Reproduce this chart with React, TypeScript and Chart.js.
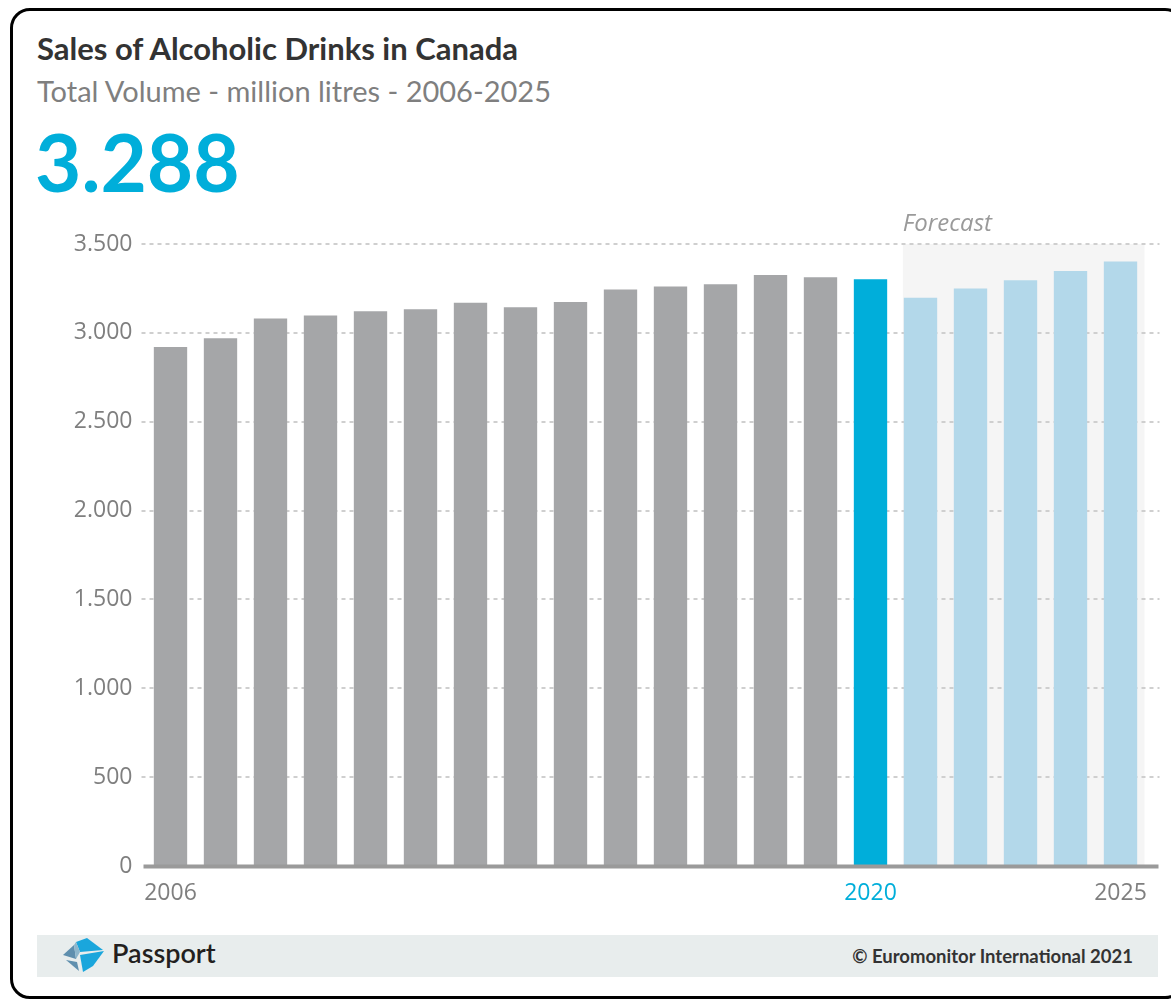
import React, { useEffect, useRef } from 'react';
import { Chart, registerables } from 'chart.js';

Chart.register(...registerables);

// ---- data ----
const years = ['2006', '2007', '2008', '2009', '2010', '2011', '2012', '2013', '2014', '2015',
  '2016', '2017', '2018', '2019', '2020', '2021', '2022', '2023', '2024', '2025'];
const volumes = [2921, 2970, 3081, 3098, 3122, 3133, 3169, 3144, 3174, 3244,
  3261, 3274, 3326, 3313, 3302, 3197, 3249, 3296, 3348, 3401];
const shownYearLabels = ['2006', '2020', '2025'];
const currentYear = '2020';
const firstForecastYear = '2021';
const yMax = 3500;
const yStep = 500;

const titleText = 'Sales of Alcoholic Drinks in Canada';
const subtitleText = 'Total Volume - million litres - 2006-2025';
const headlineText = '3.288';
const forecastText = 'Forecast';
const copyrightText = '© Euromonitor International 2021';
const brandText = 'Passport';

// ---- styles ----
const GRAY = '#A5A6A8';
const CURRENT = '#00AEDA';
const FORECAST = '#B3D8EA';
const TICK = '#7F7F7F';

const barColors = years.map((y) => (y < currentYear ? GRAY : y === currentYear ? CURRENT : FORECAST));

const fmt = (v: number) => {
  const s = String(Math.round(v));
  return s.replace(/\B(?=(\d{3})+(?!\d))/g, '.');
};

const decor = {
  id: 'decor',
  beforeDatasetsDraw(chart: any) {
    const { ctx, chartArea, scales } = chart;
    const y = scales.y;
    const meta = chart.getDatasetMeta(0);
    const fi = years.indexOf(firstForecastYear);
    const bar: any = meta.data[fi];
    const left = bar.x - bar.width / 2 - 1;
    const right = chartArea.right - 1;
    const top = y.getPixelForValue(yMax);
    const bottom = y.getPixelForValue(0);
    ctx.save();
    ctx.fillStyle = '#F5F5F5';
    ctx.fillRect(left, top, right - left, bottom - top);
    ctx.strokeStyle = '#CFCFCF';
    ctx.lineWidth = 2;
    ctx.setLineDash([4, 4]);
    y.ticks.forEach((t: any) => {
      if (t.value === 0) return;
      const py = Math.round(y.getPixelForValue(t.value));
      ctx.beginPath();
      ctx.moveTo(chartArea.left - 4, py);
      ctx.lineTo(chartArea.right + 14, py);
      ctx.stroke();
    });
    ctx.setLineDash([]);
    ctx.font = 'italic 24px "Open Sans"';
    ctx.fillStyle = '#9A9A9A';
    ctx.textBaseline = 'alphabetic';
    ctx.textAlign = 'left';
    ctx.fillText(forecastText, left, top - 13);
    ctx.restore();
  },
  afterDatasetsDraw(chart: any) {
    const { ctx, chartArea, scales } = chart;
    const py = scales.y.getPixelForValue(0);
    ctx.save();
    ctx.strokeStyle = '#9A9A9A';
    ctx.lineWidth = 4;
    ctx.beginPath();
    ctx.moveTo(chartArea.left - 2, py + 0.5);
    ctx.lineTo(chartArea.right + 13, py + 0.5);
    ctx.stroke();
    ctx.restore();
  },
};

function BarChart() {
  const ref = useRef<HTMLCanvasElement | null>(null);
  useEffect(() => {
    if (!ref.current) return;
    const chart = new Chart(ref.current, {
      type: 'bar',
      data: {
        labels: years,
        datasets: [{
          data: volumes,
          backgroundColor: barColors,
          borderWidth: 0,
          barPercentage: 0.667,
          categoryPercentage: 1,
        }],
      },
      options: {
        animation: false,
        responsive: false,
        devicePixelRatio: 1,
        layout: { padding: { left: 0, right: 25.5, top: 44, bottom: 0 } },
        plugins: { legend: { display: false }, tooltip: { enabled: false }, title: { display: false } },
        scales: {
          x: {
            grid: { display: false },
            border: { display: false },
            ticks: {
              autoSkip: false,
              maxRotation: 0,
              minRotation: 0,
              padding: 6,
              font: { family: '"Open Sans"', size: 23 },
              color: (c: any) => (years[c.index] === currentYear ? CURRENT : TICK),
              callback: (_v: any, i: number) => (shownYearLabels.includes(years[i]) ? years[i] : ''),
            },
            afterFit: (s: any) => { s.height = 54; },
          },
          y: {
            min: 0,
            max: yMax,
            grid: { display: false },
            border: { display: false },
            ticks: {
              stepSize: yStep,
              padding: 5,
              font: { family: '"Open Sans"', size: 23 },
              color: TICK,
              callback: (v: any) => fmt(Number(v)),
            },
            afterFit: (s: any) => { s.width = 145.5; },
          },
        },
      },
      plugins: [decor],
    } as any);
    return () => chart.destroy();
  }, []);
  return <canvas ref={ref} width={1171} height={720} style={{ position: 'absolute', left: 0, top: 200, display: 'block' }} />;
}

function Logo() {
  return (
    <svg width="44" height="36" viewBox="0 0 44 36" style={{ position: 'absolute', left: 62, top: 937 }}>
      <polygon points="1,18 12,8 14,22" fill="#5F8FAE" />
      <polygon points="14,5 25,1 41,13 18,15" fill="#1AA6DC" />
      <polygon points="18,18 42,14 31,29 21,35" fill="#1AA6DC" />
      <polygon points="4,23 15,25 17,34" fill="#5F8FAE" />
      <polygon points="12,8 14,5 18,15 14,22" fill="#8DB6CC" />
    </svg>
  );
}

export default function App() {
  return (
    <div style={{ position: 'absolute', left: 0, top: 0, width: 1171, height: 1000, overflow: 'hidden', background: '#fff' }}>
      <div style={{ position: 'absolute', left: 10, top: 8, width: 1175, height: 991, border: '3px solid #000', borderRadius: 20, boxSizing: 'border-box' }} />
      <div style={{ position: 'absolute', left: 37, top: 32.5, font: 'bold 31px Lato', lineHeight: 1, color: '#333', whiteSpace: 'nowrap' }}>{titleText}</div>
      <div style={{ position: 'absolute', left: 37, top: 76, font: '29px Lato', lineHeight: 1, color: '#7F7F7F', whiteSpace: 'nowrap' }}>{subtitleText}</div>
      <div style={{ position: 'absolute', left: 35, top: 121, font: 'bold 80px Lato', lineHeight: 1, color: CURRENT, whiteSpace: 'nowrap' }}>{headlineText}</div>
      <BarChart />
      <div style={{ position: 'absolute', left: 37, top: 935, width: 1121, height: 42, background: '#E8EDED' }} />
      <Logo />
      <div style={{ position: 'absolute', left: 112, top: 939, font: '600 27px Lato', lineHeight: 1, color: '#231F20', whiteSpace: 'nowrap' }}>{brandText}</div>
      <div style={{ position: 'absolute', right: 1171 - 1133, top: 946.5, font: 'bold 18.5px Lato', lineHeight: 1, color: '#333', whiteSpace: 'nowrap' }}>{copyrightText}</div>
    </div>
  );
}
